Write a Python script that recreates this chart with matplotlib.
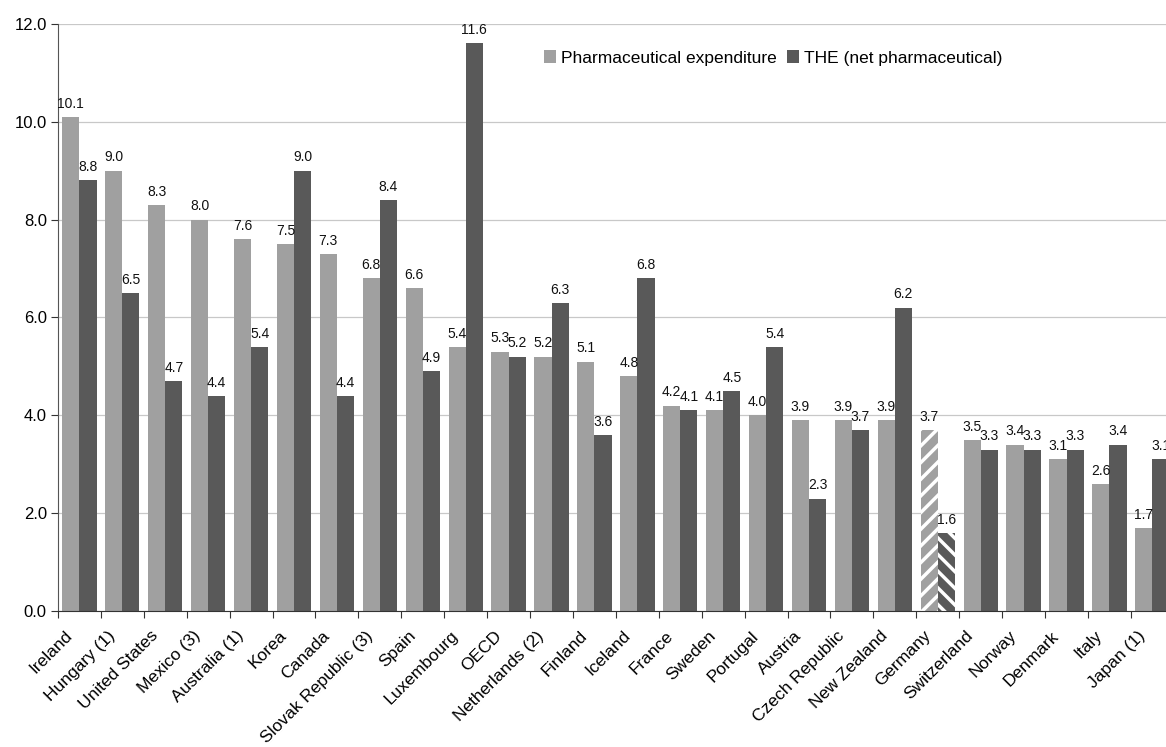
import matplotlib.pyplot as plt
import matplotlib.transforms as mtransforms
import numpy as np

plt.rcParams["font.family"] = ["Liberation Sans", "DejaVu Sans"]
plt.rcParams["hatch.linewidth"] = 2.5

COUNTRIES = [
    "Ireland", "Hungary (1)", "United States", "Mexico (3)", "Australia (1)", "Korea",
    "Canada", "Slovak Republic (3)", "Spain", "Luxembourg", "OECD", "Netherlands (2)",
    "Finland", "Iceland", "France", "Sweden", "Portugal", "Austria", "Czech Republic",
    "New Zealand", "Germany", "Switzerland", "Norway", "Denmark", "Italy", "Japan (1)",
]
PHARMA = [10.1, 9.0, 8.3, 8.0, 7.6, 7.5, 7.3, 6.8, 6.6, 5.4, 5.3, 5.2, 5.1, 4.8, 4.2,
          4.1, 4.0, 3.9, 3.9, 3.9, 3.7, 3.5, 3.4, 3.1, 2.6, 1.7]
THE_NET = [8.8, 6.5, 4.7, 4.4, 5.4, 9.0, 4.4, 8.4, 4.9, 11.6, 5.2, 6.3, 3.6, 6.8, 4.1,
           4.5, 5.4, 2.3, 3.7, 6.2, 1.6, 3.3, 3.3, 3.3, 3.4, 3.1]
HATCHED = ["Germany"]

LIGHT = "#a0a0a0"
DARK = "#595959"

fig = plt.figure(figsize=(11.66, 7.47), dpi=100)
ax = fig.add_axes([0.0497, 0.182, 0.957, 0.786])

x = np.arange(len(COUNTRIES))
width = 0.4
bars_p = ax.bar(x - width / 2, PHARMA, width, color=LIGHT, linewidth=0,
                label="Pharmaceutical expenditure", zorder=2)
bars_t = ax.bar(x + width / 2, THE_NET, width, color=DARK, linewidth=0,
                label="THE (net pharmaceutical)", zorder=2)

for i, name in enumerate(COUNTRIES):
    if name in HATCHED:
        bars_p[i].set_hatch("//")
        bars_p[i].set_edgecolor("white")
        bars_t[i].set_hatch("\\\\")
        bars_t[i].set_edgecolor("white")

for bars, vals in ((bars_p, PHARMA), (bars_t, THE_NET)):
    for b, v in zip(bars, vals):
        ax.annotate(f"{v:.1f}", (b.get_x() + b.get_width() / 2, v),
                    xytext=(0, 4.5), textcoords="offset points",
                    ha="center", va="bottom", fontsize=10, color="#111111")

ax.set_xlim(-0.5, len(COUNTRIES) - 0.5)
ax.set_ylim(0, 12)
ax.set_yticks(np.arange(0, 12.1, 2))
ax.set_yticklabels([f"{v:.1f}" for v in np.arange(0, 12.1, 2)], fontsize=12)
ax.yaxis.grid(True, color="#c8c8c8", linewidth=0.9, zorder=0)
ax.set_axisbelow(True)

# ticks sit on the group boundaries, labels at group centres
ax.set_xticks(np.arange(len(COUNTRIES) + 1) - 0.5)
ax.set_xticklabels([])
ax.set_xticks(x, minor=True)
ax.set_xticklabels(COUNTRIES, minor=True, rotation=45, ha="right",
                   rotation_mode="anchor", fontsize=12.5)
ax.tick_params(axis="x", which="minor", length=0, pad=8)
ax.tick_params(axis="x", which="major", length=5, direction="out", color="#333333")
ax.tick_params(axis="y", length=5, direction="out", color="#333333", pad=3)

shift = mtransforms.ScaledTranslation(-0.15, -0.06, fig.dpi_scale_trans)
for lbl in ax.get_xticklabels(minor=True):
    lbl.set_transform(lbl.get_transform() + shift)

ax.spines[["top", "right"]].set_visible(False)
ax.spines["left"].set_color("#555555")
ax.spines["bottom"].set_color("#333333")

ax.legend(loc="center", bbox_to_anchor=(0.641, 0.942), bbox_transform=ax.transAxes,
          ncol=2, frameon=False, fontsize=12.5, handlelength=0.7, handleheight=0.7,
          handletextpad=0.3, columnspacing=0.6)

fig.savefig("out.png", dpi=100)
